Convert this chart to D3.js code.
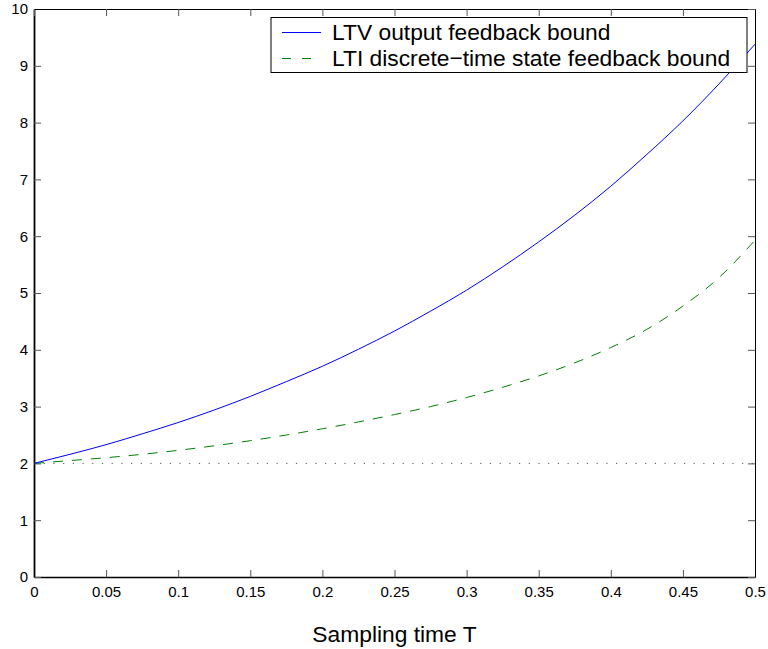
<!DOCTYPE html>
<html>
<head>
<meta charset="utf-8">
<script src="https://cdn.jsdelivr.net/npm/d3@7"></script>
<style>
  body { margin: 0; background: #fff; }
  text { font-family: "Liberation Sans", Arial, Helvetica, sans-serif; }
</style>
</head>
<body>
<svg id="chart" width="768" height="649"></svg>
<script>
// sampling times (T) and the two bounds
var sampleTimes = [0, 0.025, 0.05, 0.075, 0.1, 0.125, 0.15, 0.175, 0.2, 0.225, 0.25,
                   0.275, 0.3, 0.325, 0.35, 0.375, 0.4, 0.425, 0.45, 0.475, 0.5];
var ltvBound = [2.00, 2.16, 2.33, 2.52, 2.72, 2.94, 3.18, 3.44, 3.71, 4.01, 4.33,
                4.68, 5.05, 5.46, 5.90, 6.37, 6.88, 7.44, 8.03, 8.68, 9.38];
var ltiBound = [2.00, 2.05, 2.10, 2.16, 2.23, 2.31, 2.40, 2.50, 2.61, 2.73, 2.86,
                3.00, 3.16, 3.34, 3.54, 3.77, 4.04, 4.36, 4.77, 5.27, 5.93];
var referenceLevel = 2;

var xTicks = [0, 0.05, 0.1, 0.15, 0.2, 0.25, 0.3, 0.35, 0.4, 0.45, 0.5];
var yTicks = [0, 1, 2, 3, 4, 5, 6, 7, 8, 9, 10];
var legendLabels = ["LTV output feedback bound", "LTI discrete\u2212time state feedback bound"];
var xLabel = "Sampling time T";

var svg = d3.select("#chart");

var x = d3.scaleLinear().domain([0, 0.5]).range([34, 755]);
var y = d3.scaleLinear().domain([0, 10]).range([577, 9]);

var fmt = d => String(d);

// axes, ticks pointing inward like matlab
svg.append("g")
  .attr("transform", "translate(0,577)")
  .call(d3.axisBottom(x).tickValues(xTicks).tickFormat(fmt).tickSizeInner(-7).tickSizeOuter(0).tickPadding(9))
  .call(g => g.select(".domain").attr("stroke-width", 1.6));

svg.append("g")
  .attr("transform", "translate(34,0)")
  .call(d3.axisLeft(y).tickValues(yTicks).tickFormat(fmt).tickSizeInner(-7).tickSizeOuter(0).tickPadding(6))
  .call(g => g.select(".domain").attr("stroke-width", 1.8));

svg.append("g")
  .attr("transform", "translate(0,9)")
  .call(d3.axisTop(x).tickValues(xTicks).tickFormat("").tickSizeInner(-7).tickSizeOuter(0));

svg.append("g")
  .attr("transform", "translate(755,0)")
  .call(d3.axisRight(y).tickValues(yTicks).tickFormat("").tickSizeInner(-7).tickSizeOuter(0));

svg.selectAll(".tick text")
  .attr("font-size", 15)
  .attr("font-family", "Liberation Sans, Arial, sans-serif")
  .attr("fill", "#000");
svg.selectAll(".tick line").attr("stroke", "#555");

// dotted reference line at 2
svg.append("line")
  .attr("x1", x(0)).attr("x2", x(0.5))
  .attr("y1", y(referenceLevel)).attr("y2", y(referenceLevel))
  .attr("stroke", "#555")
  .attr("stroke-width", 1)
  .attr("stroke-dasharray", "1.2,8.5");

var line = d3.line()
  .x((d, i) => x(sampleTimes[i]))
  .y(d => y(d))
  .curve(d3.curveMonotoneX);

svg.append("path")
  .datum(ltiBound)
  .attr("d", line)
  .attr("fill", "none")
  .attr("stroke", "#008000")
  .attr("stroke-width", 1)
  .attr("stroke-dasharray", "10,9");

svg.append("path")
  .datum(ltvBound)
  .attr("d", line)
  .attr("fill", "none")
  .attr("stroke", "#0000ff")
  .attr("stroke-width", 1);

// legend
var legend = svg.append("g");
legend.append("rect")
  .attr("x", 271).attr("y", 17.5)
  .attr("width", 476).attr("height", 55)
  .attr("fill", "#fff")
  .attr("stroke", "#000")
  .attr("stroke-width", 1);

var legendStyles = [
  {color: "#0000ff", dash: null},
  {color: "#008000", dash: "9,11"}
];

legendLabels.forEach((label, i) => {
  var cy = 32.5 + i * 26;
  legend.append("line")
    .attr("x1", 282).attr("x2", 321)
    .attr("y1", cy).attr("y2", cy)
    .attr("stroke", legendStyles[i].color)
    .attr("stroke-width", 1)
    .attr("stroke-dasharray", legendStyles[i].dash);
  legend.append("text")
    .attr("x", 332).attr("y", cy + 7.5)
    .attr("font-size", 22.8)
    .attr("fill", "#000")
    .text(label);
});

// x axis title
svg.append("text")
  .attr("x", (x(0) + x(0.5)) / 2)
  .attr("y", 642)
  .attr("text-anchor", "middle")
  .attr("font-size", 22.8)
  .attr("fill", "#000")
  .text(xLabel);
</script>
</body>
</html>
